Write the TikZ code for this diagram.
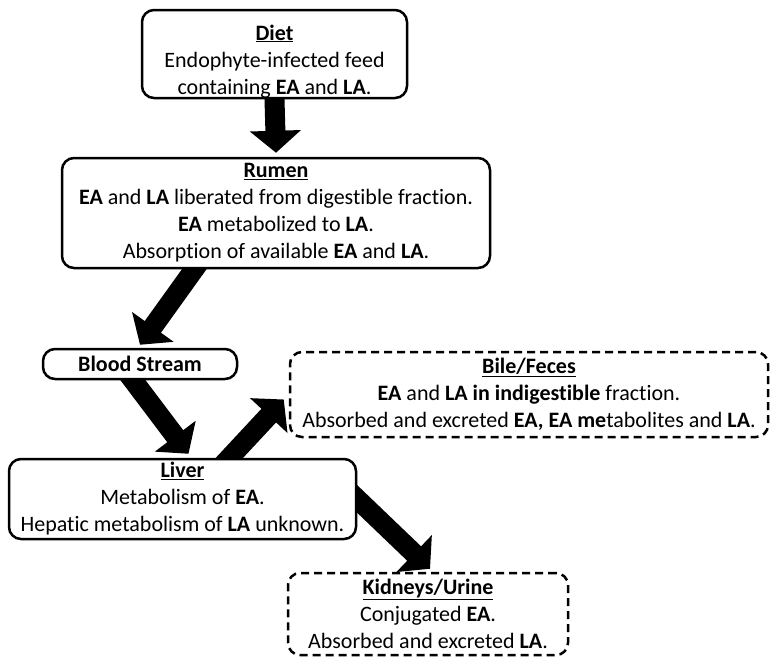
\documentclass[tikz,border=0pt]{standalone}
\usepackage{fontspec}
\setmainfont{Carlito}[Ligatures=NoCommon]
\usetikzlibrary{arrows.meta, calc, backgrounds}

\newcommand{\firstpad}{\rule{0pt}{30pt}}

\tikzset{
  box/.style={draw, line width=2.5pt, rounded corners=12pt, fill=white, align=center,
    inner sep=0pt, font=\fontsize{22}{27}\selectfont},
  dashbox/.style={box, dash pattern=on 8pt off 5pt},
  flow/.style={line width=20pt, shorten <=-14pt, -{Triangle[width=50pt,length=22pt]}},
}

\begin{document}
\begin{tikzpicture}[x=1pt,y=-1pt]
\useasboundingbox (0,0) rectangle (770,659);

% the boxes
\node[box, minimum width=265pt, minimum height=88pt] (diet) at (274.5,54)
  {\firstpad\underline{\textbf{Diet}}\\Endophyte-infected feed\\containing \textbf{EA} and \textbf{LA}.};
\node[box, minimum width=428pt, minimum height=110pt] (rumen) at (276,213)
  {\underline{\textbf{Rumen}}\\\textbf{EA} and \textbf{LA} liberated from digestible fraction.\\
   \textbf{EA} metabolized to \textbf{LA}.\\Absorption of available \textbf{EA} and \textbf{LA}.};
\node[box, minimum width=194pt, minimum height=30pt] (blood) at (140,364) {\textbf{Blood Stream}};
\node[dashbox, minimum width=478pt, minimum height=85pt] (bile) at (529,394.5)
  {\underline{\textbf{Bile/Feces}}\\\textbf{EA} and \textbf{LA in indigestible} fraction.\\
   Absorbed and excreted \textbf{EA, EA me}tabolites and \textbf{LA}.};
\node[box, minimum width=347pt, minimum height=80pt] (liver) at (182.5,499)
  {\underline{\textbf{Liver}}\\Metabolism of \textbf{EA}.\\Hepatic metabolism of \textbf{LA} unknown.};
\node[dashbox, minimum width=280pt, minimum height=82pt] (kidneys) at (428,614)
  {\underline{\textbf{Kidneys/Urine}}\\Conjugated \textbf{EA}.\\Absorbed and excreted \textbf{LA}.};

% the arrows, under the boxes
\begin{pgfonlayer}{background}
\draw[flow] (diet.south) -- ($(rumen.north)+(0,-4)$);
\draw[flow] ($(rumen.south west)!0.31!(rumen.south east)$) -- ($(blood.north)+(0,-3)$);
\draw[flow] ($(blood.south)+(-7,0)$) -- ($(liver.north)+(6,-4)$);
\draw[flow] ($(liver.north)+(47,0)$) -- ($(bile.west)+(-5,5)$);
\draw[flow] (liver.east) -- ($(kidneys.north)+(2,-3)$);
\end{pgfonlayer}
\end{tikzpicture}
\end{document}
